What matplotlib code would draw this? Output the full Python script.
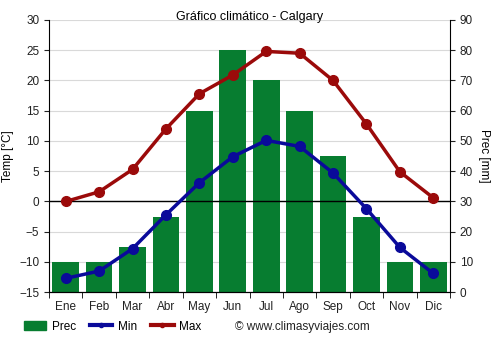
import matplotlib.pyplot as plt
import numpy as np
from matplotlib.lines import Line2D
from matplotlib.patches import Patch

months = ["Ene", "Feb", "Mar", "Abr", "May", "Jun", "Jul", "Ago", "Sep", "Oct", "Nov", "Dic"]
prec = [10, 10, 15, 25, 60, 80, 70, 60, 45, 25, 10, 10]
t_min = [-12.7, -11.5, -7.8, -2.2, 3.1, 7.4, 10.1, 9.1, 4.7, -1.2, -7.6, -11.9]
t_max = [0.0, 1.6, 5.3, 12.0, 17.8, 20.9, 24.8, 24.5, 20.0, 12.8, 4.9, 0.6]

GREEN = "#077d30"
BLUE = "#0a0a9a"
RED = "#9b0a0a"
GRID = "#d9d9d9"

plt.rcParams["font.family"] = ["Liberation Sans", "DejaVu Sans"]

fig = plt.figure(figsize=(5, 3.5), dpi=100)
ax = fig.add_axes([0.098, 0.165, 0.802, 0.778])
ax2 = ax.twinx()

x = np.arange(len(months))

# precipitation on the right axis; the grid lives here so it stays behind the bars
ax2.bar(x, prec, width=0.8, color=GREEN, zorder=2)
ax2.set_xlim(-0.5, 11.5)
ax2.set_ylim(0, 90)
ax2.set_yticks(range(0, 91, 10))
ax2.set_ylabel("Prec [mm]", fontsize=8.5, rotation=270, labelpad=12)
ax2.set_xticks(np.arange(-0.5, 12, 1), minor=True)
ax2.grid(True, which="minor", axis="x", color=GRID, lw=0.8, zorder=0)
ax2.grid(True, which="major", axis="y", color=GRID, lw=0.8, zorder=0)
ax2.set_axisbelow(True)

# temperature lines on top
ax.set_zorder(ax2.get_zorder() + 1)
ax.patch.set_visible(False)
ax.plot(x, t_min, color=BLUE, lw=2.5, marker="o", ms=7, zorder=4)
ax.plot(x, t_max, color=RED, lw=2.5, marker="o", ms=7, zorder=4)
ax.axhline(0, color="black", lw=1, zorder=3)

ax.set_xlim(-0.5, 11.5)
ax.set_ylim(-15, 30)
ax.set_yticks(range(-15, 31, 5))
ax.set_ylabel("Temp [°C]", fontsize=8.5)

# month labels centred, tick marks on the boundaries
ax.set_xticks(x)
ax.set_xticklabels(months)
ax.set_xticks(np.arange(-0.5, 12, 1), minor=True)
ax.tick_params(axis="x", which="major", length=0, pad=6)
ax.tick_params(axis="x", which="minor", length=4)
ax2.tick_params(axis="x", which="both", length=0)

for a in (ax, ax2):
    a.tick_params(labelsize=8.5, colors="#222222")
    a.spines["top"].set_visible(False)
ax.spines["right"].set_visible(False)
ax2.spines["left"].set_visible(False)

fig.text(0.5, 0.951, "Gráfico climático - Calgary", fontsize=9,
         ha="center", va="center")

handles = [
    Patch(color=GREEN, label="Prec"),
    Line2D([], [], color=BLUE, lw=3, marker="o", ms=3, label="Min"),
    Line2D([], [], color=RED, lw=3, marker="o", ms=3, label="Max"),
]
fig.legend(handles=handles, loc="center left", bbox_to_anchor=(0.048, 0.067),
           ncol=3, frameon=False, fontsize=8.5, handlelength=1.9,
           handleheight=0.8, columnspacing=1.2, handletextpad=0.45,
           borderpad=0, borderaxespad=0)
fig.text(0.47, 0.067, "© www.climasyviajes.com", fontsize=8.5,
         color="#222222", va="center")

fig.savefig("out.png", dpi=100)
